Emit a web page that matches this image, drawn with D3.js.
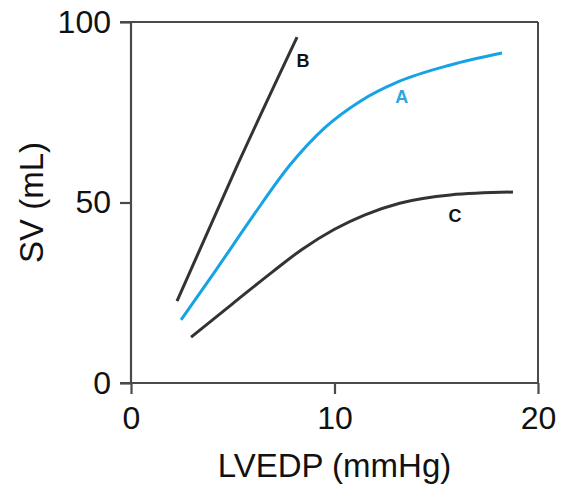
<!DOCTYPE html>
<html>
<head>
<meta charset="utf-8">
<script src="https://cdn.jsdelivr.net/npm/d3@7"></script>
<style>
html,body{margin:0;padding:0;background:#fff;}
svg{display:block;font-family:"Liberation Sans",Arial,sans-serif;}
</style>
</head>
<body>
<svg id="chart" width="561" height="492"></svg>
<script>
const xTicks = [0, 10, 20];
const yTicks = [0, 50, 100];
const seriesNames = ["A", "B", "C"];
const curveA = [[2.46,17.5],[4.2,31.5],[6.0,46.3],[7.8,60.3],[9.5,70.6],[11.25,78.0],[13.2,83.6],[15.7,88.1],[18.23,91.4]];
const curveB = [[2.26,22.7],[5.2,60.0],[8.16,95.8]];
const curveC = [[2.95,12.7],[5.0,22.0],[7.0,31.0],[8.4,37.0],[10.0,42.6],[11.5,46.6],[13.2,49.8],[15.7,52.1],[18.77,52.9]];
const labelPos = [[13.3,77.6],[8.45,87.5],[15.92,44.6]];
const xLabel = "LVEDP (mmHg)";
const yLabel = "SV (mL)";

const svg = d3.select("#chart");
const x = d3.scaleLinear().domain([0,20]).range([131,538]);
const y = d3.scaleLinear().domain([0,100]).range([383,22]);
const axisColor = "#4a4a4a";

svg.append("line").attr("x1",x(0)).attr("x2",x(20)).attr("y1",y(100)).attr("y2",y(100))
  .attr("stroke",axisColor).attr("stroke-width",2);
svg.append("line").attr("x1",x(20)).attr("x2",x(20)).attr("y1",y(100)).attr("y2",y(0))
  .attr("stroke",axisColor).attr("stroke-width",2);

const gx = svg.append("g").attr("transform",`translate(0,${y(0)})`)
  .call(d3.axisBottom(x).tickValues(xTicks).tickSize(11).tickPadding(12));
const gy = svg.append("g").attr("transform",`translate(${x(0)},0)`)
  .call(d3.axisLeft(y).tickValues(yTicks).tickSize(11).tickPadding(9));
[gx,gy].forEach(g=>{
  g.select(".domain").attr("stroke",axisColor).attr("stroke-width",2.2);
  g.selectAll(".tick line").attr("stroke",axisColor).attr("stroke-width",2.2);
  g.selectAll(".tick text").attr("fill","#111").style("font-size","32px")
   .style("font-family","'Liberation Sans',Arial,sans-serif");
});
gy.select(".domain").attr("d",`M-11,${y(100)}H0V${y(0)}H-11`);
gx.select(".domain").attr("d",`M${x(0)},0H${x(20)}`);

svg.append("text").attr("x",(x(0)+x(20))/2).attr("y",477).attr("text-anchor","middle")
  .style("font-size","33px").attr("fill","#111").text(xLabel);
svg.append("text").attr("transform",`translate(43,${(y(0)+y(100))/2}) rotate(-90)`)
  .attr("text-anchor","middle").style("font-size","33px").attr("fill","#111").text(yLabel);

const line = d3.line().x(d=>x(d[0])).y(d=>y(d[1])).curve(d3.curveMonotoneX);
const data = [curveA, curveB, curveC];
const colors = ["#16a3e5", "#333333", "#333333"];
data.forEach((c,i)=>{
  svg.append("path").datum(c).attr("d",line).attr("fill","none")
    .attr("stroke",colors[i]).attr("stroke-width",3).attr("stroke-linecap","butt");
});
seriesNames.forEach((n,i)=>{
  svg.append("text").attr("x",x(labelPos[i][0])).attr("y",y(labelPos[i][1]))
    .attr("text-anchor","middle").style("font-size","18px").style("font-weight","bold")
    .attr("fill", i===0 ? "#2aa5e2" : "#111").text(n);
});
</script>
</body>
</html>
